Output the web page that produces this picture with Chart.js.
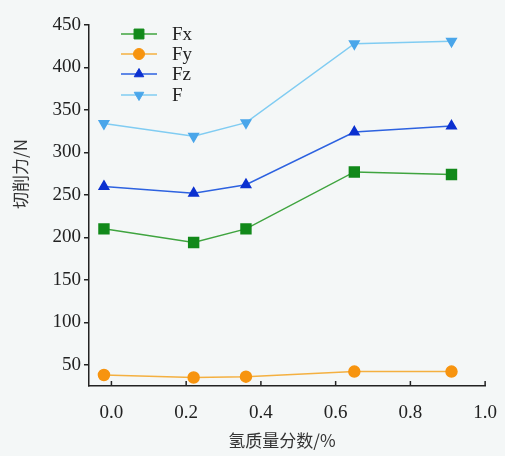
<!DOCTYPE html>
<html>
<head>
<meta charset="utf-8">
<script src="https://cdn.jsdelivr.net/npm/chart.js@4.4.1/dist/chart.umd.min.js"></script>
<style>
  html, body { margin: 0; padding: 0; background: #f4f7f7; }
  #wrap { width: 505px; height: 456px; }
</style>
</head>
<body>
<div id="wrap"><canvas id="c" width="505" height="456"></canvas></div>
<script>
  // values
  const hydrogen = [-0.02, 0.22, 0.36, 0.65, 0.91];
  const fx = [210, 194, 210, 277, 274];
  const fy = [38, 35, 36, 42, 42];
  const fz = [260, 252, 262, 324, 331];
  const fTotal = [334, 319, 335, 428, 431];
  const yTicks = [50, 100, 150, 200, 250, 300, 350, 400, 450];
  const xTicks = [0, 0.2, 0.4, 0.6, 0.8, 1.0];

  const serif = "'Liberation Serif', 'DejaVu Serif', serif";
  const cjk = "'Noto Sans CJK SC', sans-serif";

  function pts(ys) {
    return hydrogen.map((x, i) => ({ x, y: ys[i] }));
  }

  function series(label, ys, lineColor, pointColor, style, radius, rotation) {
    return {
      label,
      data: pts(ys),
      borderColor: lineColor,
      backgroundColor: pointColor,
      pointBorderColor: pointColor,
      pointBackgroundColor: pointColor,
      pointStyle: style,
      pointRadius: radius,
      pointRotation: rotation || 0,
      borderWidth: 1.5,
      tension: 0
    };
  }

  const datasets = [
    series('Fx', fx, '#3fa43f', '#11891a', 'rect', 7),
    series('Fy', fy, '#f4b040', '#f7940f', 'circle', 5.5),
    series('Fz', fz, '#2d62e0', '#0b30d0', 'triangle', 5.5),
    series('F', fTotal, '#80ccf2', '#4aa6ea', 'triangle', 5.5, 180)
  ];

  // legend inside the plot, line + marker like the original figure
  const innerLegend = {
    id: 'innerLegend',
    afterDraw(chart) {
      const ctx = chart.ctx;
      const rows = [34, 54, 74, 95];
      chart.data.datasets.forEach((ds, i) => {
        const y = rows[i];
        ctx.save();
        ctx.strokeStyle = ds.borderColor;
        ctx.lineWidth = 1.5;
        ctx.beginPath();
        ctx.moveTo(121, y);
        ctx.lineTo(157, y);
        ctx.stroke();
        ctx.fillStyle = ds.pointBackgroundColor;
        ctx.strokeStyle = ds.pointBorderColor;
        ctx.lineWidth = 1;
        Chart.helpers.drawPoint(ctx, {
          pointStyle: ds.pointStyle,
          rotation: ds.pointRotation,
          radius: ds.pointRadius,
          borderWidth: 1
        }, 139, y);
        ctx.fillStyle = '#222';
        ctx.font = '19px ' + serif;
        ctx.textBaseline = 'middle';
        ctx.fillText(ds.label, 172, y + 1);
        ctx.restore();
      });
    }
  };

  // axis titles and inward x ticks
  const axisDeco = {
    id: 'axisDeco',
    afterDraw(chart) {
      const ctx = chart.ctx;
      const xs = chart.scales.x;
      const bottom = chart.chartArea.bottom;
      ctx.save();
      ctx.strokeStyle = '#222';
      ctx.lineWidth = 1.5;
      xTicks.forEach(v => {
        const px = xs.getPixelForValue(v);
        ctx.beginPath();
        ctx.moveTo(px, bottom);
        ctx.lineTo(px, bottom - 5);
        ctx.stroke();
      });
      ctx.fillStyle = '#333';
      ctx.font = '17px ' + cjk;
      ctx.textAlign = 'center';
      ctx.textBaseline = 'middle';
      ctx.fillText('氢质量分数/%', 282, 441);
      ctx.translate(21, 174);
      ctx.rotate(-Math.PI / 2);
      ctx.fillText('切削力/N', 0, 0);
      ctx.restore();
    }
  };

  new Chart(document.getElementById('c'), {
    type: 'line',
    data: { datasets },
    options: {
      responsive: false,
      animation: false,
      layout: { padding: { left: 0, top: 25, right: 17, bottom: 0 } },
      plugins: { legend: { display: false }, tooltip: { enabled: false } },
      scales: {
        x: {
          type: 'linear',
          min: -0.06,
          max: 1.0,
          afterFit: s => { s.height = 70; },
          afterBuildTicks: s => { s.ticks = xTicks.map(v => ({ value: v })); },
          ticks: {
            color: '#222',
            padding: 8,
            font: { family: serif, size: 19 },
            callback: v => v.toFixed(1)
          },
          grid: { display: false },
          border: { display: true, color: '#222', width: 1.5 }
        },
        y: {
          min: 25,
          max: 450,
          afterFit: s => { s.width = 89; },
          afterBuildTicks: s => { s.ticks = yTicks.map(v => ({ value: v })); },
          ticks: {
            color: '#222',
            padding: 3,
            font: { family: serif, size: 19 }
          },
          grid: { drawOnChartArea: false, drawTicks: true, tickLength: 5, color: '#222', lineWidth: 1.5 },
          border: { display: true, color: '#222', width: 1.5 }
        }
      }
    },
    plugins: [innerLegend, axisDeco]
  });
</script>
</body>
</html>
